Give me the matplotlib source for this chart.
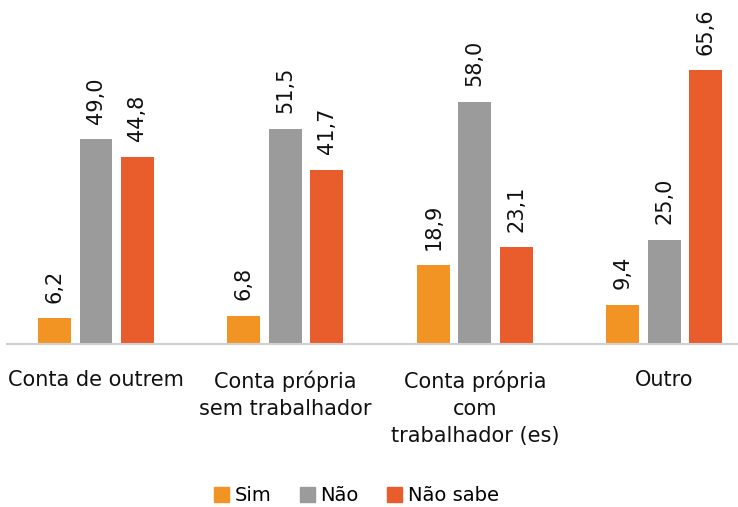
import numpy as np
import matplotlib
matplotlib.use("Agg")
import matplotlib.pyplot as plt
from matplotlib.patches import Patch

categorias = ["Conta de outrem", "Conta própria\nsem trabalhador",
              "Conta própria\ncom\ntrabalhador (es)", "Outro"]
series = ["Sim", "Não", "Não sabe"]
sim = [6.2, 6.8, 18.9, 9.4]
nao = [49.0, 51.5, 58.0, 25.0]
nao_sabe = [44.8, 41.7, 23.1, 65.6]
cores = ["#F29423", "#9B9B9B", "#E95D2D"]

plt.rcParams['font.family'] = ['DejaVu Sans']

fig = plt.figure(figsize=(7.38, 5.07), dpi=100)
ax = fig.add_axes([7 / 738, (507 - 344) / 507, 731 / 738, 344 / 507])

x = np.arange(len(categorias))
largura = 0.174
passo = 0.219
for i, (vals, cor) in enumerate(zip([sim, nao, nao_sabe], cores)):
    pos = x + (i - 1) * passo
    ax.bar(pos, vals, width=largura, color=cor, zorder=2)
    for p, v in zip(pos, vals):
        ax.annotate(f"{v:.1f}".replace(".", ","), (p, v), xytext=(0, 11),
                    textcoords="offset points", rotation=90,
                    ha="center", va="bottom", fontsize=15, color="#111111")

ax.set_xlim(-0.47, 3.39)
ax.set_ylim(0, 82.3)
for s in ["top", "right", "left"]:
    ax.spines[s].set_visible(False)
ax.spines["bottom"].set_color("#D0D0D0")
ax.spines["bottom"].set_linewidth(1.5)
ax.set_yticks([])
ax.set_xticks(x)
ax.set_xticklabels(categorias, fontsize=15, color="#111111", linespacing=1.45, va="top")
ax.tick_params(axis="x", length=0, pad=19)

handles = [Patch(color=c) for c in cores]
fig.legend(handles, series, loc="center", bbox_to_anchor=(0.483, 0.022),
           ncol=3, frameon=False, fontsize=14, handlelength=0.77, handleheight=0.77,
           handletextpad=0.3, columnspacing=1.45)

fig.savefig("out.png", dpi=100)
